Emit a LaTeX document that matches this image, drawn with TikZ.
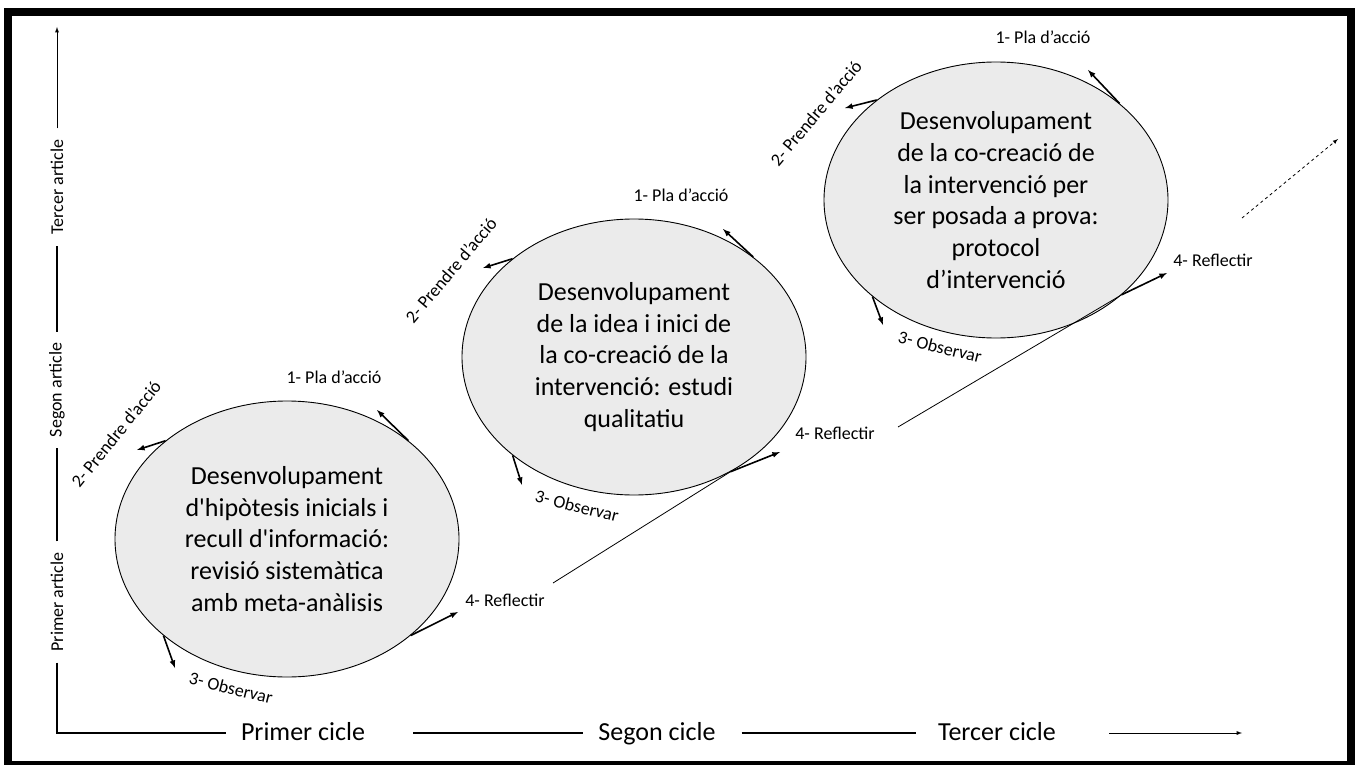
\documentclass[tikz,border=0pt]{standalone}
\usepackage{fontspec}
\setmainfont{Carlito}
\usetikzlibrary{shapes.geometric,calc}
\definecolor{cycfill}{HTML}{EBEBEB}

\begin{document}
\begin{tikzpicture}[x=1pt,y=-1pt,
    cycle/.style={ellipse,draw,fill=cycfill,line width=0.9pt,
        minimum width=344pt,minimum height=276pt,inner sep=0pt,
        align=center,font=\fontsize{26}{31.7}\selectfont},
    phase/.style={font=\fontsize{18}{21}\selectfont,inner sep=0pt},
    article/.style={font=\fontsize{18}{21}\selectfont,rotate=90,
        inner xsep=11pt,inner ysep=0pt},
    cicle/.style={font=\fontsize{26}{30}\selectfont,inner sep=0pt,
        text height=19pt,text depth=4pt}]
\useasboundingbox (0,0) rectangle (1360,765);

% Frame:
\draw [line width=8pt] (8,12) rectangle (1351,765);

% Axes labels:
\node [article] (art_a) at (57,602) {Primer article};
\node [article] (art_b) at (57,390) {Segon article};
\node [article] (art_c) at (57,187) {Tercer article};
\node [cicle] (cic_a) at (303,733) {Primer cicle};
\node [cicle] (cic_b) at (657,733) {Segon cicle};
\node [cicle] (cic_c) at (997,733) {Tercer cicle};

\coordinate (origin) at (57,733);
\coordinate (ytip) at (57,27);
\coordinate (xtip) at (1242,733);

% Axes:
\begin{scope}[line width=1.8pt]
\draw (art_a.east) -- (art_b.west);
\draw (art_b.east) -- (art_c.west);
\draw (art_a.west) -- (origin) -- ($(cic_a.west)+(-15,0)$);
\draw ($(cic_a.east)+(48,0)$) -- ($(cic_b.west)+(-15,0)$);
\draw ($(cic_b.east)+(26,0)$) -- ($(cic_c.west)+(-22,0)$);
\end{scope}
\draw [line width=0.9pt,-latex] (art_c.east) -- (ytip);
\draw [line width=0.9pt,-latex] ($(cic_c.east)+(53,0)$) -- (xtip);

% Cycles:
\node [cycle] (cyc_a) at (287,539) {Desenvolupament\\
    d\textquotesingle hipòtesis inicials i\\
    recull d\textquotesingle informació:\\
    revisió sistemàtica\\
    amb meta-anàlisis};
\node [cycle] (cyc_b) at (634,357) {Desenvolupament\\
    de la idea i inici de\\
    la co-creació de la\\
    intervenció: estudi\\
    qualitatiu};
\node [cycle] (cyc_c) at (996,200) {Desenvolupament\\
    de la co-creació de\\
    la intervenció per\\
    ser posada a prova:\\
    protocol\\
    d’intervenció};

% Phase labels
\node [phase] (pla_a) at (334,377) {1- Pla d’acció};
\node [phase,rotate=51] (pren_a) at (116,434) {2- Prendre d’acció};
\node [phase,rotate=-14] (obs_a) at (231,688) {3- Observar};
\node [phase] (refl_a) at (505,600) {4- Reflectir};

\node [phase] (pla_b) at (681,195) {1- Pla d’acció};
\node [phase,rotate=50] (pren_b) at (451,270) {2- Prendre d’acció};
\node [phase,rotate=-14] (obs_b) at (577,506) {3- Observar};
\node [phase] (refl_b) at (835,433) {4- Reflectir};

\node [phase] (pla_c) at (1043,37) {1- Pla d’acció};
\node [phase,rotate=50] (pren_c) at (816,113) {2- Prendre d’acció};
\node [phase,rotate=-14] (obs_c) at (940,347) {3- Observar};
\node [phase] (refl_c) at (1213,260) {4- Reflectir};

% Arrow tips
\coordinate (tip1_a) at (377,410);
\coordinate (tip2_a) at (137,450);
\coordinate (tip3_a) at (175,668);
\coordinate (tip4_a) at (458,612);
\coordinate (tip1_b) at (723,229);
\coordinate (tip2_b) at (483,268);
\coordinate (tip3_b) at (522,485);
\coordinate (tip4_b) at (780,452);
\coordinate (tip1_c) at (1088,70);
\coordinate (tip2_c) at (845,108);
\coordinate (tip3_c) at (883,325);
\coordinate (tip4_c) at (1167,273);

% Lines leaving the cycles
\begin{scope}[line width=1.6pt,every path/.style={draw, -latex}]
\path (cyc_a.39) -- (tip1_a);
\path (cyc_a.141) -- (tip2_a);
\path (cyc_a.218) -- (tip3_a);
\path (cyc_a.322) -- (tip4_a);
\path (cyc_b.40) -- (tip1_b);
\path (cyc_b.141) -- (tip2_b);
\path (cyc_b.219) -- (tip3_b);
\path (cyc_b.310) -- (tip4_b);
\path (cyc_c.38) -- (tip1_c);
\path (cyc_c.140) -- (tip2_c);
\path (cyc_c.218) -- (tip3_c);
\path (cyc_c.323) -- (tip4_c);
\end{scope}

% Links to the next cycle
\coordinate (link_a) at (553,583);
\coordinate (link_b) at (898,427);
\draw [line width=0.8pt] (link_a) -- (cyc_b.310);
\draw [line width=0.8pt] (link_b) -- (cyc_c.323);

\coordinate (next_s) at (1242,218);
\coordinate (next_e) at (1338,139);
\draw [line width=0.8pt,dashed,-latex] (next_s) -- (next_e);
\end{tikzpicture}
\end{document}
